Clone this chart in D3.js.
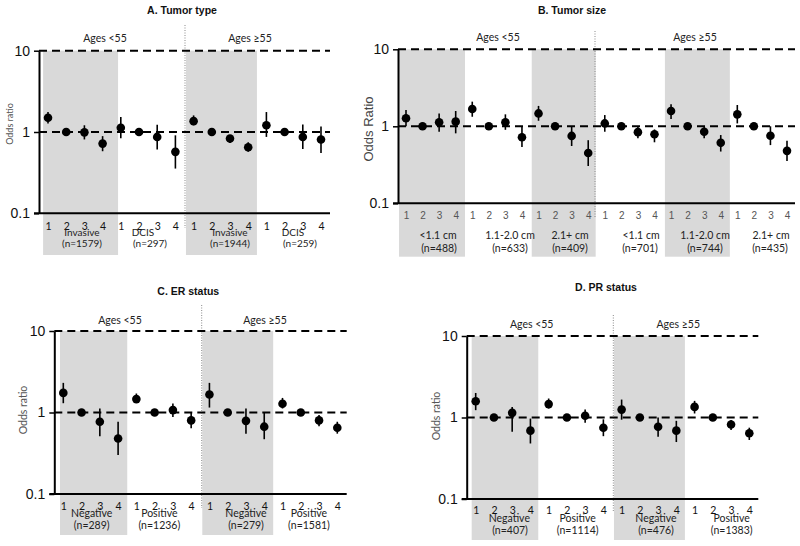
<!DOCTYPE html>
<html><head><meta charset="utf-8">
<script src="https://cdn.jsdelivr.net/npm/d3@7"></script>
<style>body{margin:0;background:#fff}</style>
</head><body><svg id="c" width="800" height="546"></svg>
<script>
// ---------- data ----------
const catLabels = ["1","2","3","4"];
const yTickValues = [0.1, 1, 10];
const yTickLabels = ["0.1","1","10"];
const agesLabels = ["Ages <55", "Ages \u226555"];

const aTitle = "A. Tumor type";
const aGroups = ["Invasive","DCIS","Invasive","DCIS"];
const aNs = ["(n=1579)","(n=297)","(n=1944)","(n=259)"];
const aOR = [1.50,1.00,0.99,0.72, 1.13,1.00,0.87,0.57, 1.36,1.00,0.83,0.65, 1.21,1.00,0.87,0.81];
const aLo = [1.27,1.00,0.81,0.58, 0.84,1.00,0.61,0.355, 1.21,1.00,0.73,0.57, 0.87,1.00,0.62,0.55];
const aHi = [1.76,1.00,1.21,0.89, 1.53,1.00,1.23,0.91, 1.60,1.00,0.91,0.75, 1.76,1.00,1.24,1.17];

const bTitle = "B. Tumor size";
const bGroups = ["<1.1 cm","1.1-2.0 cm","2.1+ cm","<1.1 cm","1.1-2.0 cm","2.1+ cm"];
const bNs = ["(n=488)","(n=633)","(n=409)","(n=701)","(n=744)","(n=435)"];
const bOR = [1.27,1.00,1.13,1.15, 1.68,1.00,1.13,0.72, 1.47,1.00,0.75,0.45, 1.09,1.00,0.84,0.79, 1.58,1.00,0.85,0.61, 1.43,1.00,0.755,0.48];
const bLo = [1.00,1.00,0.85,0.81, 1.33,1.00,0.90,0.54, 1.18,1.00,0.555,0.305, 0.85,1.00,0.70,0.62, 1.24,1.00,0.70,0.47, 1.09,1.00,0.57,0.355];
const bHi = [1.63,1.00,1.47,1.58, 2.09,1.00,1.43,1.00, 1.84,1.00,1.00,0.66, 1.40,1.00,1.00,0.91, 1.93,1.00,1.00,0.77, 1.89,1.00,1.00,0.65];

const cTitle = "C. ER status";
const cGroups = ["Negative","Positive","Negative","Positive"];
const cNs = ["(n=289)","(n=1236)","(n=279)","(n=1581)"];
const cOR = [1.74,1.00,0.77,0.48, 1.46,1.00,1.07,0.80, 1.66,1.00,0.79,0.67, 1.28,1.00,0.80,0.65];
const cLo = [1.30,1.00,0.51,0.30, 1.35,1.00,0.88,0.64, 1.15,1.00,0.55,0.47, 1.12,1.00,0.68,0.55];
const cHi = [2.31,1.00,1.12,0.77, 1.71,1.00,1.29,0.99, 2.31,1.00,1.12,0.99, 1.51,1.00,0.93,0.77];

const dTitle = "D. PR status";
const dGroups = ["Negative","Positive","Negative","Positive"];
const dNs = ["(n=407)","(n=1114)","(n=476)","(n=1383)"];
const dOR = [1.58,1.00,1.14,0.69, 1.46,1.00,1.05,0.75, 1.25,1.00,0.77,0.69, 1.35,1.00,0.82,0.64];
const dLo = [1.23,1.00,0.67,0.48, 1.29,1.00,0.86,0.59, 0.94,1.00,0.58,0.50, 1.12,1.00,0.70,0.53];
const dHi = [2.00,1.00,1.35,0.97, 1.71,1.00,1.25,0.95, 1.66,1.00,1.00,0.91, 1.60,1.00,0.93,0.75];

// ---------- layout ----------
const svg = d3.select("#c");
const CAL = "Lato, 'Open Sans', sans-serif";
const ARI = "'Liberation Sans', Arial, sans-serif";

const layouts = {
  A: {ax:39, y10:50.7, y01:213.3, x0:48, x1:321, xEnd:330,
      shade:[[-0.27,3.85],[7.58,11.48]], shadeBottom:255,
      tickY:226, tickFont:CAL, tickSize:10.5, tickColor:"#111",
      grpY:232, nY:243.5, grpX:[82,143,230,293], nX:[82,150,230,300], grpSize:10,
      divX:185, divTop:25, divBottom:228,
      titleX:182, titleY:10, agesX:[105,250], agesY:38,
      yl:{text:"Odds ratio", x:10, y:124, size:9, font:CAL, color:"#555"}},
  B: {ax:398, y10:49.3, y01:203.3, x0:406, x1:787, xEnd:795,
      shade:[[-0.42,3.56],[7.59,11.45],[15.63,19.55]], shadeBottom:256.7,
      tickY:215, tickFont:ARI, tickSize:10, tickColor:"#555",
      grpY:235, nY:248, grpX:[438,510,570,641,705,771], nX:[439,510,570,640,705,770], grpSize:10.5,
      divX:595, divTop:31, divBottom:218,
      titleX:572, titleY:10, agesX:[498,695], agesY:37,
      yl:{text:"Odds Ratio", x:368, y:129, size:13, font:ARI, color:"#444"}},
  C: {ax:54.3, y10:331, y01:494, x0:63.3, x1:337.3, xEnd:346.7,
      shade:[[-0.18,3.5],[7.61,11.49]], shadeBottom:535,
      tickY:506.7, tickFont:CAL, tickSize:10.5, tickColor:"#111",
      grpY:513.3, nY:525, grpX:[91.7,159.3,246,309], nX:[91.7,159.3,246,309], grpSize:10.5,
      divX:201.7, divTop:305, divBottom:508,
      titleX:188.3, titleY:291.7, agesX:[120,265], agesY:320,
      yl:{text:"Odds ratio", x:23, y:410, size:10.5, font:CAL, color:"#555"}},
  D: {ax:466.7, y10:336, y01:499, x0:475.7, x1:749.3, xEnd:758.3,
      shade:[[-0.22,3.43],[7.58,11.47]], shadeBottom:540,
      tickY:510, tickFont:CAL, tickSize:10.5, tickColor:"#111",
      grpY:518.3, nY:530, grpX:[509.3,577.7,656,731.7], nX:[510,577.7,656,731.7], grpSize:10.5,
      divX:613.3, divTop:315, divBottom:512,
      titleX:606, titleY:287.3, agesX:[531.7,678.3], agesY:324,
      yl:{text:"Odds ratio", x:436.7, y:416, size:10.5, font:CAL, color:"#555"}}
};

function panel(L, title, OR, lo, hi, groups, ns) {
  const g = svg.append("g");
  const n = OR.length;
  const x = d3.scaleLinear().domain([0, n - 1]).range([L.x0, L.x1]);
  const y = d3.scaleLog().domain([0.1, 10]).range([L.y01, L.y10]);

  // shaded group bands
  g.selectAll("rect.shade").data(L.shade).join("rect")
    .attr("x", s => x(s[0])).attr("width", s => x(s[1]) - x(s[0]))
    .attr("y", y(10)).attr("height", s => L.shadeBottom - y(10))
    .attr("fill", "#d9d9d9");

  // age divider
  g.append("line").attr("x1", L.divX).attr("x2", L.divX)
    .attr("y1", L.divTop).attr("y2", L.divBottom)
    .attr("stroke", "#8a8a8a").attr("stroke-width", 1).attr("stroke-dasharray", "1,1.5");

  // dashed reference lines
  g.selectAll("line.ref").data([10, 1]).join("line")
    .attr("x1", L.ax).attr("x2", L.xEnd).attr("y1", d => y(d)).attr("y2", d => y(d))
    .attr("stroke", "#000").attr("stroke-width", 2).attr("stroke-dasharray", "8,5");

  // y axis
  const ya = g.append("g").attr("transform", `translate(${L.ax},0)`)
    .call(d3.axisLeft(y).tickValues(yTickValues).tickFormat((d, i) => yTickLabels[i])
      .tickSize(5).tickSizeOuter(0).tickPadding(4));
  ya.select(".domain").attr("stroke", "#000").attr("stroke-width", 2);
  ya.selectAll(".tick line").attr("stroke", "#000").attr("stroke-width", 1.5);
  ya.selectAll(".tick text").attr("font-family", ARI).attr("font-size", 14).attr("fill", "#111");

  // x baseline
  g.append("line").attr("x1", L.ax - 5).attr("x2", L.xEnd)
    .attr("y1", y(0.1)).attr("y2", y(0.1)).attr("stroke", "#000").attr("stroke-width", 2);

  // x category ticks
  const xa = g.append("g").attr("transform", `translate(0,${L.tickY})`)
    .call(d3.axisBottom(x).tickValues(d3.range(n)).tickFormat(i => catLabels[i % 4]).tickSize(0).tickPadding(0));
  xa.select(".domain").remove();
  xa.selectAll(".tick text").attr("y", 0).attr("dy", "0.35em")
    .attr("font-family", L.tickFont).attr("font-size", L.tickSize).attr("fill", L.tickColor);

  // group labels
  g.selectAll("text.grp").data(groups).join("text")
    .attr("x", (d, i) => L.grpX[i]).attr("y", L.grpY).attr("dy", "0.35em")
    .attr("text-anchor", "middle").attr("font-family", CAL).attr("font-size", L.grpSize)
    .attr("fill", "#222").text(d => d);
  g.selectAll("text.nn").data(ns).join("text")
    .attr("x", (d, i) => L.nX[i]).attr("y", L.nY).attr("dy", "0.35em")
    .attr("text-anchor", "middle").attr("font-family", CAL).attr("font-size", L.grpSize)
    .attr("fill", "#222").text(d => d);

  // title and age labels
  g.append("text").attr("x", L.titleX).attr("y", L.titleY).attr("dy", "0.35em")
    .attr("text-anchor", "middle").attr("font-family", ARI).attr("font-weight", "bold")
    .attr("font-size", 10.5).attr("fill", "#111").text(title);
  g.selectAll("text.ages").data(agesLabels).join("text")
    .attr("x", (d, i) => L.agesX[i]).attr("y", L.agesY).attr("dy", "0.35em")
    .attr("text-anchor", "middle").attr("font-family", CAL).attr("font-size", 10.5)
    .attr("fill", "#222").text(d => d);

  // y label
  g.append("text").attr("transform", `translate(${L.yl.x},${L.yl.y}) rotate(-90)`)
    .attr("dy", "0.35em").attr("text-anchor", "middle")
    .attr("font-family", L.yl.font).attr("font-size", L.yl.size).attr("fill", L.yl.color)
    .text(L.yl.text);

  // error bars
  const idx = d3.range(n);
  g.selectAll("line.ci").data(idx.filter(i => lo[i] !== hi[i])).join("line")
    .attr("x1", i => x(i)).attr("x2", i => x(i))
    .attr("y1", i => y(lo[i])).attr("y2", i => y(hi[i]))
    .attr("stroke", "#000").attr("stroke-width", 1.6);
  // points
  g.selectAll("circle.pt").data(idx).join("circle")
    .attr("cx", i => x(i)).attr("cy", i => y(OR[i])).attr("r", 4.3).attr("fill", "#000");
}

panel(layouts.A, aTitle, aOR, aLo, aHi, aGroups, aNs);
panel(layouts.B, bTitle, bOR, bLo, bHi, bGroups, bNs);
panel(layouts.C, cTitle, cOR, cLo, cHi, cGroups, cNs);
panel(layouts.D, dTitle, dOR, dLo, dHi, dGroups, dNs);
</script>
</body></html>
